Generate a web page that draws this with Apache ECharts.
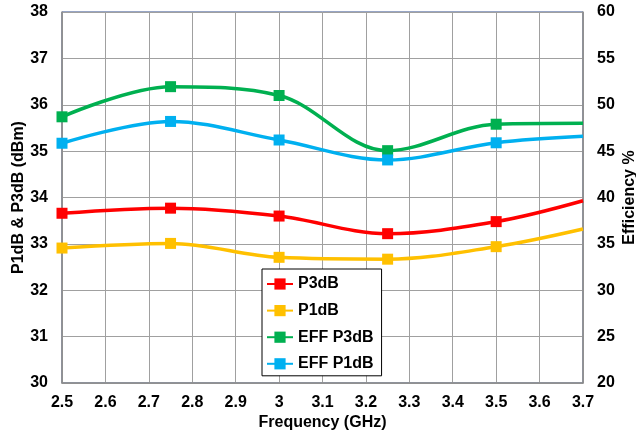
<!DOCTYPE html>
<html>
<head>
<meta charset="utf-8">
<script src="https://cdn.jsdelivr.net/npm/echarts@6/dist/echarts.min.js"></script>
<style>html,body{margin:0;padding:0;background:#fff;}#c{width:636px;height:440px;}</style>
</head>
<body>
<div id="c"></div>
<script>
const freq = [2.5, 2.75, 3.0, 3.25, 3.5, 3.7];
const p3dB = [33.66, 33.77, 33.60, 33.22, 33.48, 33.93];
const p1dB = [32.91, 33.01, 32.71, 32.67, 32.94, 33.32];
const effP3dB = [48.7, 51.95, 51.0, 45.05, 47.9, 48.0];
const effP1dB = [45.85, 48.2, 46.2, 44.05, 45.9, 46.6];
const seriesNames = ['P3dB', 'P1dB', 'EFF P3dB', 'EFF P1dB'];
const colors = ['#FF0000', '#FFC000', '#00B050', '#00B0F0'];

const font = 'Arial, "Liberation Sans", sans-serif';
const fs = 16;
function mk(vals) {
  return freq.map((x, i) => ({
    value: [x, vals[i]],
    symbolSize: i === freq.length - 1 ? 0 : 11
  }));
}
function line(name, vals, color, yIdx) {
  return {
    name: name, type: 'line', yAxisIndex: yIdx,
    data: mk(vals), smooth: 0.35,
    symbol: 'rect', symbolSize: 11,
    lineStyle: { color: color, width: 3.5 },
    itemStyle: { color: color },
    emphasis: { disabled: true }
  };
}
const chart = echarts.init(document.getElementById('c'), null, { renderer: 'canvas' });
chart.setOption({
  animation: false,
  backgroundColor: '#fff',
  grid: { left: 62, right: 53, top: 12, bottom: 57, containLabel: false, outerBoundsMode: 'none',
          show: true, borderColor: '#2F4A8A', borderWidth: 1 },
  legend: {
    orient: 'vertical', left: 262, top: 269,
    data: seriesNames,
    backgroundColor: '#fff', borderColor: '#000', borderWidth: 1,
    padding: [7, 8, 4, 4], itemGap: 10.6, itemWidth: 26, itemHeight: 14,
    textStyle: { fontFamily: font, fontWeight: 'bold', fontSize: fs, color: '#000' }
  },
  xAxis: {
    type: 'value', min: 2.5, max: 3.7, interval: 0.1,
    name: 'Frequency (GHz)', nameLocation: 'middle', nameGap: 32, nameMoveOverlap: false,
    nameTextStyle: { fontFamily: font, fontWeight: 'bold', fontSize: fs, color: '#000' },
    axisLine: { lineStyle: { color: '#8C8C8C', width: 1.5 } },
    axisTick: { show: false },
    axisLabel: { margin: 12, fontFamily: font, fontWeight: 'bold', fontSize: fs, color: '#000' },
    splitLine: { show: true, lineStyle: { color: '#A0A0A0', width: 1 } }
  },
  yAxis: [
    {
      type: 'value', min: 30, max: 38, interval: 1,
      name: 'P1dB & P3dB (dBm)', nameLocation: 'middle', nameGap: 35, nameMoveOverlap: false,
      nameTextStyle: { fontFamily: font, fontWeight: 'bold', fontSize: fs, color: '#000' },
      axisLine: { show: true, lineStyle: { color: '#8C8C8C', width: 1.5 } },
      axisTick: { show: false },
      axisLabel: { margin: 14, fontFamily: font, fontWeight: 'bold', fontSize: fs, color: '#000' },
      splitLine: { show: true, lineStyle: { color: '#A0A0A0', width: 1 } }
    },
    {
      type: 'value', min: 20, max: 60, interval: 5, position: 'right',
      name: 'Efficiency %', nameLocation: 'middle', nameGap: 39, nameMoveOverlap: false,
      nameTextStyle: { fontFamily: font, fontWeight: 'bold', fontSize: fs, color: '#000' },
      axisLine: { show: true, lineStyle: { color: '#8C8C8C', width: 1.5 } },
      axisTick: { show: false },
      axisLabel: { margin: 14, fontFamily: font, fontWeight: 'bold', fontSize: fs, color: '#000' },
      splitLine: { show: false }
    }
  ],
  series: [
    line(seriesNames[0], p3dB, colors[0], 0),
    line(seriesNames[1], p1dB, colors[1], 0),
    line(seriesNames[2], effP3dB, colors[2], 1),
    line(seriesNames[3], effP1dB, colors[3], 1)
  ]
});
</script>
</body>
</html>
